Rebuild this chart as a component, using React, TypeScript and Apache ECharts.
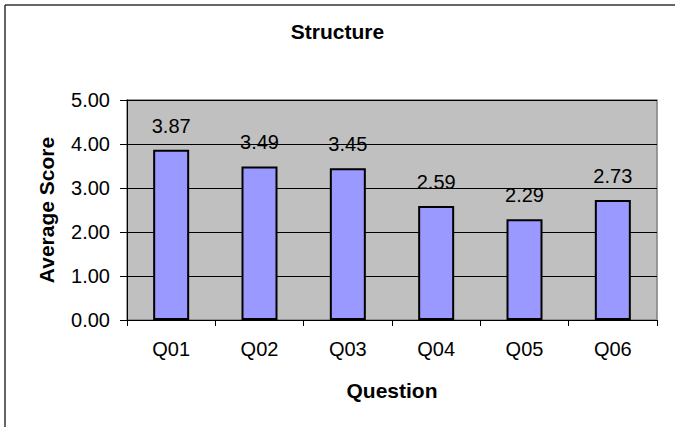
import React, { useEffect, useRef } from "react";
import * as echarts from "echarts";

const categories = ["Q01", "Q02", "Q03", "Q04", "Q05", "Q06"];
const scores = [3.87, 3.49, 3.45, 2.59, 2.29, 2.73];
const yTicks = [0, 1, 2, 3, 4, 5];

const FONT = "'Liberation Sans', Arial, sans-serif";

export default function App() {
  const ref = useRef<HTMLDivElement>(null);
  useEffect(() => {
    if (!ref.current) return;
    const chart = echarts.init(ref.current, undefined, { renderer: "svg" });
    chart.setOption({
      animation: false,
      backgroundColor: "#ffffff",
      title: {
        text: "Structure",
        left: "center",
        top: 21,
        padding: 0,
        textStyle: { fontFamily: FONT, fontSize: 21, fontWeight: "bold", color: "#000" },
      },
      graphic: [
        { type: "line", shape: { x1: 5, y1: 5, x2: 675, y2: 5 }, style: { stroke: "#333", lineWidth: 1.5 } },
        { type: "line", shape: { x1: 5, y1: 5, x2: 5, y2: 427 }, style: { stroke: "#333", lineWidth: 1.5 } },
      ],
      grid: {
        left: 127,
        right: 18,
        top: 100,
        bottom: 107,
        show: true,
        backgroundColor: "#C0C0C0",
        borderColor: "#808080",
        borderWidth: 1.5,
      },
      xAxis: {
        type: "category",
        data: categories,
        name: "Question",
        nameLocation: "middle",
        nameGap: 60,
        nameTextStyle: { fontFamily: FONT, fontSize: 21, fontWeight: "bold", color: "#000" },
        axisLine: { lineStyle: { color: "#000", width: 1 } },
        axisTick: { show: true, length: 6, lineStyle: { color: "#000" } },
        axisLabel: { fontFamily: FONT, fontSize: 20, color: "#000", margin: 19 },
      },
      yAxis: {
        type: "value",
        min: yTicks[0],
        max: yTicks[yTicks.length - 1],
        interval: 1,
        name: "Average Score",
        nameLocation: "middle",
        nameGap: 70,
        nameTextStyle: { fontFamily: FONT, fontSize: 21, fontWeight: "bold", color: "#000" },
        axisLine: { show: true, lineStyle: { color: "#000", width: 1 } },
        axisTick: { show: true, length: 7, lineStyle: { color: "#000" } },
        axisLabel: {
          fontFamily: FONT,
          fontSize: 20,
          color: "#000",
          margin: 17,
          formatter: (v: number) => v.toFixed(2),
        },
        splitLine: { show: true, lineStyle: { color: "#000", width: 1 } },
      },
      series: [
        {
          type: "bar",
          data: scores,
          barWidth: 36,
          itemStyle: { color: "#9999FF", borderColor: "#000", borderWidth: 2 },
          label: {
            show: true,
            position: "top",
            distance: 14,
            fontFamily: FONT,
            fontSize: 20,
            color: "#000",
            formatter: (p: any) => Number(p.value).toFixed(2),
          },
        },
      ],
    });
    return () => chart.dispose();
  }, []);
  return <div ref={ref} style={{ width: 675, height: 427, position: "absolute", left: 0, top: 0 }} />;
}
